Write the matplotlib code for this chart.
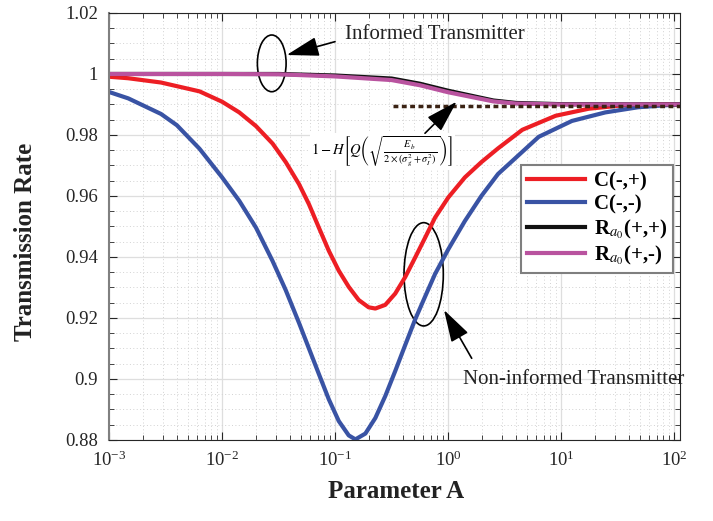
import matplotlib
matplotlib.use('Agg')
import matplotlib.pyplot as plt
from matplotlib.patches import Ellipse
from matplotlib.ticker import MultipleLocator, LogLocator, NullFormatter

plt.rcParams['font.family'] = 'serif'
plt.rcParams['font.serif'] = ['Liberation Serif', 'DejaVu Serif']
plt.rcParams['mathtext.fontset'] = 'stix'

# --- data ---
a_red = [0.001, 0.00148, 0.00288, 0.00631, 0.01, 0.01419, 0.01995, 0.02793,
         0.03656, 0.04786, 0.05861, 0.07178, 0.0879, 0.1076, 0.1318, 0.1614,
         0.1977, 0.2265, 0.2773, 0.3396, 0.4159, 0.5093, 0.6237, 0.7638, 1.0,
         1.403, 1.963, 2.754, 4.52, 8.91, 17.4, 34.3, 67.6, 112]
c_mp = [0.9991, 0.9986, 0.9972, 0.9943, 0.9909, 0.9874, 0.9829, 0.9772,
        0.9711, 0.9639, 0.9573, 0.9496, 0.9420, 0.9355, 0.9302, 0.9259,
        0.9235, 0.9231, 0.9243, 0.9280, 0.9334, 0.9398, 0.9463, 0.9529,
        0.9595, 0.9661, 0.9711, 0.9756, 0.9817, 0.9863, 0.9886, 0.9897,
        0.9900, 0.9901]

a_blue = [0.001, 0.00148, 0.00288, 0.00398, 0.00631, 0.01, 0.01419, 0.01995,
          0.02793, 0.03656, 0.04786, 0.05861, 0.07178, 0.0879, 0.1076, 0.1318,
          0.151, 0.1849, 0.2265, 0.2773, 0.3396, 0.4159, 0.5093, 0.6237,
          0.7638, 1.0, 1.403, 1.963, 2.754, 6.31, 12.4, 24.5, 47.9, 95.5, 112]
c_mm = [0.9941, 0.9920, 0.9869, 0.9832, 0.9755, 0.9661, 0.9584, 0.9496,
        0.9387, 0.9291, 0.9184, 0.9100, 0.9016, 0.8933, 0.8862, 0.8815,
        0.8802, 0.8821, 0.8872, 0.8944, 0.9026, 0.9111, 0.9195, 0.9270,
        0.9344, 0.9425, 0.9518, 0.9600, 0.9672, 0.9794, 0.9846, 0.9874,
        0.9891, 0.9899, 0.9900]

a_r = [0.001, 0.01, 0.0316, 0.1, 0.316, 0.562, 1.0, 1.585, 2.51, 3.98, 10, 112]
r_pp = [1.0, 1.0, 1.0, 0.9995, 0.9985, 0.9968, 0.9945, 0.9929, 0.9913,
        0.9905, 0.9901, 0.9900]
r_pm = [1.0, 1.0, 0.9999, 0.9992, 0.9980, 0.9963, 0.9940, 0.9925, 0.9910,
        0.9903, 0.9900, 0.9900]

a_bound = [0.326, 112]
bound = [0.9895, 0.9895]

yticks = [0.88, 0.90, 0.92, 0.94, 0.96, 0.98, 1.00, 1.02]
ytick_labels = ['0.88', '0.9', '0.92', '0.94', '0.96', '0.98', '1', '1.02']
xticks = [1e-3, 1e-2, 1e-1, 1e0, 1e1, 1e2]

fig = plt.figure(figsize=(7.13, 5.21), dpi=100)
ax = fig.add_axes([0.1529, 0.1555, 0.8008, 0.8196])

ax.plot(a_red, c_mp, color='#ed1e24', lw=3, label='C(-,+)')
ax.plot(a_blue, c_mm, color='#3953a4', lw=3, label='C(-,-)')
ax.plot(a_r, r_pp, color='#111111', lw=3, label=r'R$_{a_0}$(+,+)')
ax.plot(a_r, r_pm, color='#b9539f', lw=3, label=r'R$_{a_0}$(+,-)')
ax.plot(a_bound, bound, color='#3b2314', lw=2.5, ls=(0, (1.4, 1.0)))

ax.set_xscale('log')
ax.set_xlim(1e-3, 112)
ax.set_ylim(0.88, 1.02)
ax.set_xticks(xticks)
ax.xaxis.set_minor_locator(LogLocator(base=10, subs=range(2, 10), numticks=20))
ax.xaxis.set_minor_formatter(NullFormatter())
ax.set_yticks(yticks)
ax.set_yticklabels(ytick_labels)
ax.yaxis.set_minor_locator(MultipleLocator(0.005))

ax.set_axisbelow(True)
ax.grid(which='major', color='#dedede', lw=0.9)
ax.grid(which='minor', color='#d2d2d2', lw=0.7, ls=(0, (1, 2.5)))
ax.tick_params(which='both', direction='in', top=True, right=True,
               colors='#262626', labelsize=13.5)
ax.tick_params(which='major', length=6, pad=8)
ax.tick_params(which='minor', length=3.5)
for s in ax.spines.values():
    s.set_color('#262626')
ax.spines['left'].set_color('#808080')
ax.spines['left'].set_linewidth(1.5)

ax.set_xlabel('Parameter A', fontsize=18, fontweight='bold', color='#222222')
ax.xaxis.set_label_coords(0.503, -0.1218)
ax.xaxis.label.set_va('center')
ax.set_ylabel('Transmission Rate', fontsize=18, fontweight='bold', color='#222222')
ax.yaxis.set_label_coords(-0.1454, 0.464)
ax.yaxis.label.set_va('center')

leg = ax.legend(loc='upper right', bbox_to_anchor=(0.9883, 0.644),
                borderaxespad=0, fancybox=False, framealpha=1,
                edgecolor='#7f7f7f', handlelength=2.8, handletextpad=0.4,
                labelspacing=0.15, borderpad=0.3,
                prop={'weight': 'bold', 'size': 15})
leg.get_frame().set_linewidth(1.5)

# annotations
arrow = dict(arrowstyle='-|>,head_length=1.0,head_width=0.3', color='k',
             lw=1.2, mutation_scale=20, shrinkA=0, shrinkB=0)
ax.add_patch(Ellipse((0.285, 0.882), 0.0503, 0.1328, transform=ax.transAxes,
                     fill=False, ec='k', lw=1.2))
ax.annotate('', xy=(0.3112, 0.9016), xytext=(0.3958, 0.9328),
            xycoords='axes fraction', arrowprops=arrow)
ax.text(0.4133, 0.9485, 'Informed Transmitter', transform=ax.transAxes,
        fontsize=15, ha='left', va='center', color='#222222')

ax.text(0.479, 0.675,
        r'$1-H\left[Q\left(\sqrt{\frac{E_b}{2\times(\sigma_g^2+\sigma_I^2)}}\right)\right]$',
        transform=ax.transAxes, fontsize=10.5, ha='center', va='center',
        bbox=dict(fc='white', ec='none', pad=1))
ax.annotate('', xy=(0.6089, 0.7923), xytext=(0.5534, 0.7183),
            xycoords='axes fraction', arrowprops=arrow)

ax.add_patch(Ellipse((0.5511, 0.388), 0.0688, 0.2419, transform=ax.transAxes,
                     fill=False, ec='k', lw=1.2))
ax.annotate('', xy=(0.5867, 0.3044), xytext=(0.6352, 0.1913),
            xycoords='axes fraction', arrowprops=arrow)
ax.text(0.6205, 0.1405, 'Non-informed Transmitter', transform=ax.transAxes,
        fontsize=15, ha='left', va='center', color='#222222')

fig.savefig('out.png', dpi=100)
